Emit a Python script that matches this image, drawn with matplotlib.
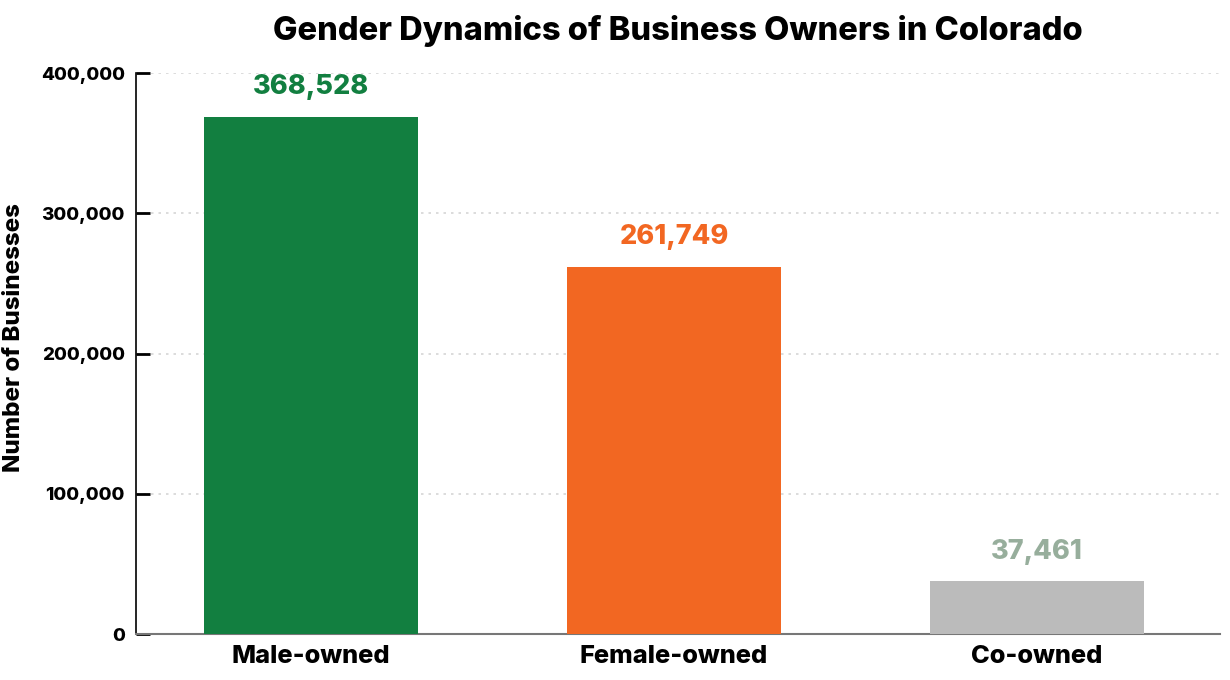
import matplotlib
matplotlib.use("Agg")

import matplotlib.pyplot as plt
from matplotlib.ticker import FuncFormatter

categories = ["Male-owned", "Female-owned", "Co-owned"]
businesses = [368528, 261749, 37461]

bar_colors = ["#127F40", "#F26722", "#BBBBBB"]
label_colors = ["#127F40", "#F26722", "#97AE9C"]

plt.rcParams["font.family"] = ["Inter", "DejaVu Sans"]
W = "heavy"

fig = plt.figure(figsize=(12.3, 6.8), dpi=100, facecolor="white")
ax = fig.add_axes([0.1106, 0.0676, 0.8814, 0.825])

x = range(len(categories))
bars = ax.bar(x, businesses, width=0.59, color=bar_colors, zorder=3)

for bar, val, col in zip(bars, businesses, label_colors):
    ax.text(bar.get_x() + bar.get_width() / 2, val + 12000, f"{val:,}",
            ha="center", va="bottom", fontsize=19.5, fontweight=W, color=col)

ax.set_xlim(-0.482, 2.504)
ax.set_ylim(0, 400000)
ax.set_yticks([0, 100000, 200000, 300000, 400000])
ax.yaxis.set_major_formatter(FuncFormatter(lambda v, p: f"{int(v):,}"))
ax.set_xticks(list(x))
ax.set_xticklabels(categories, fontsize=18.3, fontweight=W)
ax.tick_params(axis="x", length=0, pad=8)
ax.tick_params(axis="y", labelsize=13.5, direction="in", length=10, width=2, pad=8)
for lab in ax.get_yticklabels():
    lab.set_fontweight(W)

ax.grid(True, axis="y", color="#D5D5D5", linestyle=(0, (1.5, 3)), linewidth=1.2, zorder=0)
ax.spines["top"].set_visible(False)
ax.spines["right"].set_visible(False)
ax.spines["left"].set_color("black")
ax.spines["left"].set_linewidth(1.2)
ax.spines["bottom"].set_color("#777777")
ax.spines["bottom"].set_linewidth(1.5)

ax.set_ylabel("Number of Businesses", fontsize=17.3, fontweight=W)
ax.yaxis.set_label_coords(-0.1024, 0.5276)
ax.set_title("Gender Dynamics of Business Owners in Colorado",
             fontsize=23.5, fontweight=W, pad=24)

fig.savefig("out.png", dpi=100, facecolor="white")
